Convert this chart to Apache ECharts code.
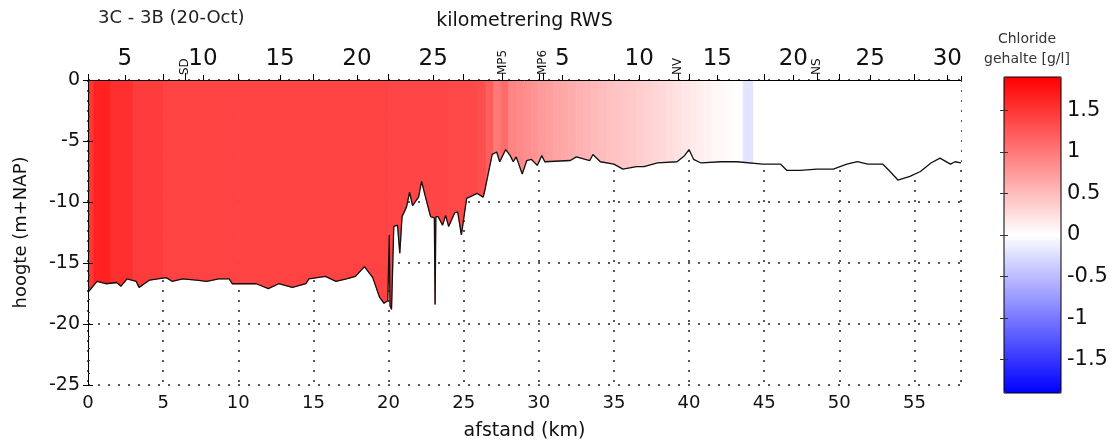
<!DOCTYPE html>
<html>
<head>
<meta charset="utf-8">
<title>Chloride 3C - 3B</title>
<script src="https://cdn.jsdelivr.net/npm/echarts/dist/echarts.min.js"></script>
<style>
  html, body { margin: 0; padding: 0; background: #fff; }
  #main { width: 1116px; height: 446px; }
</style>
</head>
<body>
<div id="main"></div>
<script>
// bodemprofiel: afstand (km) en hoogte (m+NAP)
var bedX = [0.0, 0.6, 1.2, 1.9, 2.2, 2.6, 3.2, 3.4, 4.1, 5.2, 5.6, 6.3, 7.2, 7.9, 8.7, 9.4, 9.6, 11.2, 12.0, 12.7,
    13.6, 14.5, 14.7, 15.8, 16.5, 17.2, 17.8, 18.4, 18.95, 19.4, 19.7, 19.95, 20.05, 20.1, 20.2, 20.35, 20.6, 20.75, 20.9, 21.2,
    21.4, 21.6, 22.0, 22.2, 22.4, 22.8, 23.05, 23.1, 23.15, 23.3, 23.6, 23.8, 24.0, 24.4, 24.6, 24.85, 25.0, 25.2, 25.9, 26.3,
    26.4, 26.5, 26.9, 27.2, 27.4, 27.8, 28.1, 28.3, 28.5, 28.9, 29.2, 29.5, 29.9, 30.2, 30.4, 32.1, 32.5, 33.4, 33.6, 34.1,
    35.0, 35.6, 36.5, 37.0, 37.9, 39.2, 39.7, 40.0, 40.3, 40.8, 42.1, 43.2, 44.9, 46.1, 46.5, 47.4, 48.5, 49.6, 50.5, 51.2,
    51.9, 52.9, 53.3, 53.9, 54.7, 55.4, 56.1, 56.7, 57.4, 57.7, 58.1];
var bedZ = [-17.4, -16.5, -16.7, -16.6, -16.9, -16.3, -16.5, -17.0, -16.4, -16.2, -16.5, -16.3, -16.4, -16.5, -16.3, -16.3, -16.7, -16.7, -17.1, -16.7,
    -17.0, -16.7, -16.3, -16.1, -16.5, -16.3, -16.1, -15.3, -16.2, -17.8, -18.3, -18.1, -12.7, -18.5, -18.8, -12.0, -11.9, -14.2, -11.2, -10.4,
    -9.2, -10.3, -9.6, -8.3, -9.3, -11.2, -11.3, -18.4, -11.2, -11.2, -11.9, -11.1, -12.0, -10.9, -10.8, -12.7, -11.4, -9.7, -9.3, -9.6,
    -9.1, -8.5, -6.1, -5.9, -6.7, -5.7, -6.2, -6.7, -6.3, -7.7, -6.6, -6.5, -7.0, -6.2, -6.7, -6.6, -6.3, -6.6, -6.1, -6.7,
    -6.9, -7.3, -7.1, -7.1, -6.8, -6.7, -6.2, -5.7, -6.5, -6.8, -6.7, -6.7, -6.9, -6.9, -7.4, -7.4, -7.3, -7.3, -6.9, -6.7,
    -6.9, -6.9, -7.4, -8.2, -7.9, -7.5, -6.8, -6.4, -6.9, -6.7, -6.8];

// chloridegehalte (g/l) per kolom tussen clEdges[i] en clEdges[i+1]
var clEdges = [0, 0.4, 1.5, 3, 5, 10, 15, 20, 24, 26, 26.5, 27, 27.5, 28, 28.5, 29, 29.5, 30, 30.5, 31, 31.5, 32, 32.5, 33,
    33.5, 34, 34.5, 35, 35.5, 36, 36.5, 37, 37.5, 38, 38.5, 39, 39.5, 40, 40.5, 41, 41.5, 42, 42.5, 43, 43.6, 44.3, 58.1];
var clVals = [1.5, 1.65, 1.55, 1.45, 1.4, 1.4, 1.4, 1.38, 1.36, 1.32, 1.2, 1.0, 1.1, 0.92, 0.88, 0.84, 0.8, 0.75, 0.72, 0.68,
    0.65, 0.62, 0.58, 0.55, 0.52, 0.5, 0.47, 0.44, 0.42, 0.4, 0.37, 0.34, 0.31, 0.28, 0.25, 0.22, 0.19, 0.16, 0.13, 0.1,
    0.07, 0.05, 0.03, 0.01, -0.2, 0];

// kilometrering RWS (bovenas) en markeringen, op afstand (km)
var kmPos = [2.45, 7.65, 12.78, 17.9, 22.97, 31.56, 36.68, 41.88, 46.94, 52.06, 57.19];
var kmText = ['5', '10', '15', '20', '25', '5', '10', '15', '20', '25', '30'];
var markPos = [6.46, 27.6, 30.29, 39.28, 48.5];
var markText = ['SD', 'MP5', 'MP6', 'NV', 'NS'];

var cbTicks = [-1.5, -1, -0.5, 0, 0.5, 1, 1.5];

var xMax = 58.1;
var clMin = -1.9, clMax = 1.9;

function bedAt(x) {
    for (var i = 1; i < bedX.length; i++) {
        if (x <= bedX[i]) {
            var t = (x - bedX[i - 1]) / (bedX[i] - bedX[i - 1]);
            return bedZ[i - 1] + t * (bedZ[i] - bedZ[i - 1]);
        }
    }
    return bedZ[bedZ.length - 1];
}

function lookup(pos, txt) {
    return function (v) {
        var best = 0;
        for (var i = 1; i < pos.length; i++) {
            if (Math.abs(pos[i] - v) < Math.abs(pos[best] - v)) best = i;
        }
        return txt[best];
    };
}

var clData = clVals.map(function (v, i) { return [clEdges[i], clEdges[i + 1], v]; });
var bedData = bedX.map(function (x, i) { return [x, bedZ[i]]; });

var dotted = {color: '#222', width: 1.5, type: [2, 8]};

var option = {
    animation: false,
    textStyle: {fontFamily: 'DejaVu Sans', color: '#111'},
    title: [
        {text: '3C - 3B (20-Oct)', left: 98, top: 9, padding: 0,
            textStyle: {fontSize: 18, fontWeight: 'normal', color: '#222'}},
        {text: 'Chloride\ngehalte [g/l]', left: 1027, top: 29, padding: 0, textAlign: 'center',
            textStyle: {fontSize: 14, lineHeight: 20, fontWeight: 'normal', color: '#333'}}
    ],
    grid: [
        {left: 88, top: 80, right: 155, bottom: 53},
        {left: 1004, top: 77, width: 57, height: 316, z: 10, show: true,
            borderColor: '#000', borderWidth: 1, backgroundColor: 'transparent'}
    ],
    visualMap: {
        type: 'continuous', min: clMin, max: clMax, dimension: 2, seriesIndex: 0,
        calculable: false, hoverLink: false, text: null, z: 1,
        left: 1004, top: 77, itemWidth: 57, itemHeight: 316, padding: 0,
        inRange: {color: ['#0000ff', '#ffffff', '#ff0000']}
    },
    xAxis: [
        {   // afstand
            type: 'value', gridIndex: 0, position: 'bottom', min: 0, max: xMax, interval: 5,
            name: 'afstand (km)', nameLocation: 'middle', nameGap: 37,
            nameTextStyle: {fontSize: 19, color: '#111'},
            axisLine: {lineStyle: {color: '#000', width: 1}},
            axisTick: {inside: true, length: 6, lineStyle: {color: '#000'}},
            axisLabel: {fontSize: 18, margin: 9, color: '#111', showMaxLabel: false},
            splitLine: {show: true, lineStyle: dotted}
        },
        {   // kilometrering RWS
            type: 'value', gridIndex: 0, position: 'top', min: 0, max: xMax, z: 5,
            name: 'kilometrering RWS', nameLocation: 'middle', nameGap: 49,
            nameTextStyle: {fontSize: 19, color: '#111'},
            axisLine: {lineStyle: {color: '#000', width: 1}},
            axisTick: {customValues: kmPos, length: 5, lineStyle: {color: '#000'}},
            axisLabel: {customValues: kmPos, formatter: lookup(kmPos, kmText), fontSize: 23, margin: 9, color: '#111'},
            splitLine: {show: false}
        },
        {   // markeringen
            type: 'value', gridIndex: 0, position: 'top', min: 0, max: xMax, z: 5,
            axisLine: {show: false},
            axisTick: {customValues: markPos, length: 7, lineStyle: {color: '#000'}},
            axisLabel: {customValues: markPos, formatter: lookup(markPos, markText), rotate: 90,
                fontSize: 12, margin: 5, color: '#111'},
            splitLine: {show: false}
        },
        {   // ticks bovenrand
            type: 'value', gridIndex: 0, position: 'top', min: 0, max: xMax, interval: 5, z: 5,
            axisLine: {show: false},
            axisTick: {length: 4, lineStyle: {color: '#000'}},
            axisLabel: {show: false},
            splitLine: {show: false}
        },
        {type: 'value', gridIndex: 1, min: 0, max: 1, show: false}
    ],
    yAxis: [
        {   // hoogte
            type: 'value', gridIndex: 0, position: 'left', min: -25, max: 0, interval: 5,
            name: 'hoogte (m+NAP)', nameLocation: 'middle', nameGap: 58,
            nameTextStyle: {fontSize: 18, color: '#111'},
            axisLine: {show: true, lineStyle: {color: '#000'}},
            axisTick: {show: false},
            axisLabel: {fontSize: 19, margin: 8, color: '#111'},
            splitLine: {show: true, lineStyle: dotted}
        },
        {   // rand links boven de vulling
            type: 'value', gridIndex: 0, position: 'left', min: -25, max: 0, interval: 5, z: 5,
            axisLine: {show: true, lineStyle: {color: '#000'}},
            axisTick: {inside: true, length: 5, lineStyle: {color: '#000'}},
            minorTick: {show: true, splitNumber: 5, length: 2, lineStyle: {color: '#333'}},
            axisLabel: {show: false},
            splitLine: {show: false}
        },
        {   // rand rechts
            type: 'value', gridIndex: 0, position: 'right', min: -25, max: 0, interval: 5, z: 5,
            axisLine: {show: true, lineStyle: {color: '#000'}},
            axisTick: {inside: true, length: 5, lineStyle: {color: '#000'}},
            axisLabel: {show: false},
            splitLine: {show: false}
        },
        {   // kleurenbalk labels
            type: 'value', gridIndex: 1, position: 'right', min: clMin, max: clMax, z: 10,
            axisLine: {show: false},
            axisTick: {customValues: cbTicks, inside: true, length: 4, lineStyle: {color: '#333'}},
            axisLabel: {customValues: cbTicks, fontSize: 21, margin: 6, color: '#111'},
            splitLine: {show: false}
        },
        {
            type: 'value', gridIndex: 1, position: 'left', min: clMin, max: clMax, z: 10,
            axisLine: {show: false},
            axisTick: {customValues: cbTicks, inside: true, length: 4, lineStyle: {color: '#333'}},
            axisLabel: {show: false},
            splitLine: {show: false}
        }
    ],
    series: [
        {
            name: 'chloride', type: 'custom', xAxisIndex: 0, yAxisIndex: 0, clip: true, z: 2,
            encode: {x: [0, 1]},
            data: clData,
            renderItem: function (params, api) {
                var x0 = api.value(0), x1 = api.value(1);
                var pts = [api.coord([x0, 0]), api.coord([x1, 0]), api.coord([x1, bedAt(x1)])];
                for (var i = bedX.length - 1; i >= 0; i--) {
                    if (bedX[i] > x0 && bedX[i] < x1) pts.push(api.coord([bedX[i], bedZ[i]]));
                }
                pts.push(api.coord([x0, bedAt(x0)]));
                var c = api.visual('color');
                return {type: 'polygon', shape: {points: pts}, style: {fill: c, stroke: c, lineWidth: 0.8}};
            }
        },
        {
            name: 'bodem', type: 'line', xAxisIndex: 0, yAxisIndex: 0, z: 4,
            data: bedData, showSymbol: false, symbol: 'none',
            lineStyle: {color: '#111', width: 1.3}
        }
    ]
};

var myChart = echarts.init(document.getElementById('main'));
myChart.setOption(option);
</script>
</body>
</html>
